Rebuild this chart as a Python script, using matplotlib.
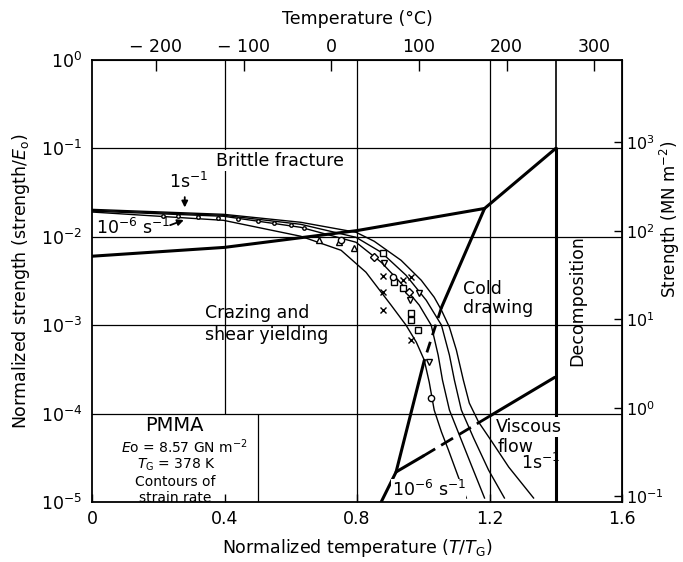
import numpy as np
import matplotlib
matplotlib.use("Agg")
import matplotlib.pyplot as plt

plt.rcParams["font.family"] = ["DejaVu Sans"]
plt.rcParams["mathtext.fontset"] = "dejavusans"

# =====================================
# Data (T/TG, log10 of strength/E0)
# =====================================

E0_MN = 8570.0   # MN m^-2
TG_K = 378.0

# strain-rate contours, 1 s^-1 ... 1e-6 s^-1
rate_a_T = [0, 0.397, 0.630, 0.797, 0.852, 0.933, 0.994, 1.033, 1.055, 1.079, 1.100, 1.121, 1.139, 1.167, 1.206, 1.258, 1.333]
rate_a_log = [-1.69, -1.746, -1.836, -1.949, -2.051, -2.266, -2.492, -2.684, -2.831, -3.023, -3.282, -3.621, -3.881, -4.096, -4.311, -4.605, -4.955]

rate_c_T = [0, 0.397, 0.630, 0.797, 0.873, 0.948, 1.009, 1.055, 1.079, 1.094, 1.115, 1.152, 1.197, 1.245]
rate_c_log = [-1.70, -1.757, -1.859, -2.006, -2.175, -2.435, -2.718, -3.000, -3.339, -3.621, -3.960, -4.277, -4.638, -4.955]

rate_b_T = [0, 0.397, 0.630, 0.797, 0.873, 0.933, 0.988, 1.024, 1.045, 1.058, 1.079, 1.109, 1.145, 1.185]
rate_b_log = [-1.71, -1.768, -1.893, -2.062, -2.288, -2.525, -2.774, -3.000, -3.339, -3.621, -3.960, -4.243, -4.582, -4.955]

rate_d_T = [0, 0.397, 0.630, 0.752, 0.827, 0.903, 0.948, 0.979, 1.003, 1.018, 1.033, 1.055, 1.076, 1.106, 1.130]
rate_d_log = [-1.72, -1.814, -1.994, -2.153, -2.401, -2.774, -3.000, -3.192, -3.395, -3.644, -3.960, -4.209, -4.412, -4.718, -4.955]

# field boundaries
brittle_T = [0, 0.4, 0.8, 1.185, 1.4]
brittle_log = [-2.22, -2.12, -1.93, -1.68, -1.0]

cold_solid_T = [1.185, 1.055]
cold_solid_log = [-1.68, -2.80]
cold_dash_T = [1.055, 1.003]
cold_dash_log = [-2.80, -3.40]
cold_low_T = [1.003, 0.918, 0.873]
cold_low_log = [-3.40, -4.66, -5.0]

visc_solid1_T = [0.918, 1.0]
visc_solid1_log = [-4.66, -4.48]
visc_dash_T = [1.0, 1.2]
visc_dash_log = [-4.48, -4.03]
visc_solid2_T = [1.2, 1.397]
visc_solid2_log = [-4.03, -3.59]

decomp_T = 1.4
decomp_log = [-1.0, -5.0]

# experimental points
pts_tri_up = ([0.685, 0.745, 0.79], [-2.04, -2.06, -2.13])
pts_tri_down = ([0.882, 0.988, 1.018, 0.96], [-2.30, -2.64, -3.42, -2.72])
pts_cross = ([0.879, 0.939, 0.964, 0.879, 0.879, 0.964], [-2.44, -2.49, -2.46, -2.63, -2.83, -3.17])
pts_square = ([0.879, 0.912, 0.939, 0.964, 0.985, 0.964], [-2.18, -2.51, -2.58, -2.86, -3.06, -2.94])
pts_circle = ([0.909, 1.024, 0.752], [-2.46, -3.82, -2.04])
pts_diamond = ([0.852, 0.958], [-2.23, -2.63])
pts_small = ([0.215, 0.26, 0.32, 0.38, 0.44, 0.50, 0.55, 0.60, 0.64],
             [-1.76, -1.765, -1.78, -1.79, -1.80, -1.82, -1.84, -1.87, -1.90])

x_ticks = [0, 0.4, 0.8, 1.2, 1.6]
x_tick_labels = ["0", "0.4", "0.8", "1.2", "1.6"]
y_ticks = [1e-5, 1e-4, 1e-3, 1e-2, 1e-1, 1e0]
y_tick_labels = ["$10^{-5}$", "$10^{-4}$", "$10^{-3}$", "$10^{-2}$", "$10^{-1}$", "$10^{0}$"]
temp_ticks = [-200, -100, 0, 100, 200, 300]
mn_ticks = [1e-1, 1e0, 1e1, 1e2, 1e3]
mn_tick_labels = ["$10^{-1}$", "$10^{0}$", "$10^{1}$", "$10^{2}$", "$10^{3}$"]


def p(vals):
    return 10 ** np.array(vals)


# =====================================
# Figure
# =====================================

fig = plt.figure(figsize=(6.83, 5.62), dpi=100)
ax = fig.add_axes([0.1347, 0.1068, 0.776, 0.7865])
ax.set_yscale("log")
ax.set_xlim(0, 1.6)
ax.set_ylim(1e-5, 1e0)

for s in ax.spines.values():
    s.set_linewidth(1.3)

# grid
for v in [1e-1, 1e-2, 1e-3, 1e-4]:
    ax.axhline(v, color="k", lw=0.9, zorder=1)
ax.vlines(0.4, 1e-4, 1e0, color="k", lw=0.9, zorder=1)
ax.vlines([0.8, 1.2], 1e-5, 1e0, color="k", lw=0.9, zorder=1)
ax.vlines(1.4, 1e-1, 1e0, color="k", lw=1.2, zorder=1)
ax.vlines(0.5, 1e-5, 1e-4, color="k", lw=0.9, zorder=1)

# contours
thin = dict(color="k", lw=1.0, zorder=3)
ax.plot(rate_a_T, p(rate_a_log), **thin)
ax.plot(rate_b_T, p(rate_b_log), **thin)
ax.plot(rate_c_T, p(rate_c_log), **thin)
ax.plot(rate_d_T, p(rate_d_log), **thin)

# boundaries
thick = dict(color="k", lw=2.2, zorder=4, solid_capstyle="round")
ax.plot(brittle_T, p(brittle_log), **thick)
ax.plot(cold_solid_T, p(cold_solid_log), **thick)
ax.plot(cold_dash_T, p(cold_dash_log), color="k", lw=2.0, ls=(0, (4, 2.5)), zorder=4)
ax.plot(cold_low_T, p(cold_low_log), **thick)
ax.plot(visc_solid1_T, p(visc_solid1_log), **thick)
ax.plot(visc_dash_T, p(visc_dash_log), color="k", lw=2.0, ls=(0, (5, 2.5)), zorder=4)
ax.plot(visc_solid2_T, p(visc_solid2_log), **thick)
ax.plot([decomp_T, decomp_T], p(decomp_log), **thick)

# data points
mk = dict(color="k", ls="none", mfc="white", mew=1.0, zorder=5)
ax.plot(pts_tri_up[0], p(pts_tri_up[1]), marker="^", ms=5, **mk)
ax.plot(pts_tri_down[0], p(pts_tri_down[1]), marker="v", ms=5, **mk)
ax.plot(pts_cross[0], p(pts_cross[1]), marker="x", ms=5, **mk)
ax.plot(pts_square[0], p(pts_square[1]), marker="s", ms=4.5, **mk)
ax.plot(pts_circle[0], p(pts_circle[1]), marker="o", ms=4.5, **mk)
ax.plot(pts_diamond[0], p(pts_diamond[1]), marker="D", ms=4, **mk)
ax.plot(pts_small[0], p(pts_small[1]), marker="o", ms=2.5, **mk)

# labels inside
fs = 12.5
wb = dict(facecolor="white", edgecolor="none", pad=1.0)
ax.text(0.373, p(-1.14), "Brittle fracture", fontsize=fs, va="center", bbox=wb, zorder=6)
ax.text(0.29, p(-1.38), "1s$^{-1}$", fontsize=fs, ha="center", va="center")
ax.text(0.012, p(-1.90), "10$^{-6}$ s$^{-1}$", fontsize=fs, va="center")
ax.annotate("", xy=(0.28, p(-1.70)), xytext=(0.28, p(-1.52)),
            arrowprops=dict(arrowstyle="-|>", color="k", lw=1.3, mutation_scale=9))
ax.annotate("", xy=(0.285, p(-1.80)), xytext=(0.228, p(-1.88)),
            arrowprops=dict(arrowstyle="-|>", color="k", lw=1.3, mutation_scale=9))
ax.text(0.342, p(-2.86), "Crazing and", fontsize=fs, va="center")
ax.text(0.342, p(-3.11), "shear yielding", fontsize=fs, va="center")
ax.text(1.12, p(-2.59), "Cold", fontsize=fs, va="center")
ax.text(1.12, p(-2.81), "drawing", fontsize=fs, va="center")
ax.text(1.22, p(-4.15), "Viscous", fontsize=fs, va="center",
        bbox=dict(facecolor="white", edgecolor="none", pad=0.5), zorder=6)
ax.text(1.225, p(-4.38), "flow", fontsize=fs, va="center")
ax.text(1.294, p(-4.56), "1s$^{-1}$", fontsize=fs, va="center")
ax.text(0.905, p(-4.86), "10$^{-6}$ s$^{-1}$", fontsize=fs, va="center",
        bbox=dict(facecolor="white", edgecolor="none", pad=0.3), zorder=6)
ax.text(1.465, p(-2.72), "Decomposition", fontsize=fs, rotation=90, ha="center", va="center")

ax.text(0.25, p(-4.13), "PMMA", fontsize=14, ha="center", va="center")
ax.text(0.28, p(-4.38), "$E$o = 8.57 GN m$^{-2}$", fontsize=10, ha="center", va="center")
ax.text(0.255, p(-4.58), "$T_{\\rm G}$ = 378 K", fontsize=10, ha="center", va="center")
ax.text(0.25, p(-4.77), "Contours of", fontsize=10, ha="center", va="center")
ax.text(0.25, p(-4.95), "strain rate", fontsize=10, ha="center", va="center")

# axes ticks
ax.set_xticks(x_ticks)
ax.set_xticklabels(x_tick_labels)
ax.set_yticks(y_ticks)
ax.set_yticklabels(y_tick_labels)
ax.minorticks_off()
ax.tick_params(axis="x", direction="in", length=6, width=1.0, labelsize=fs, pad=6)
ax.tick_params(axis="y", length=0, labelsize=fs, pad=7)
ax.set_xlabel("Normalized temperature ($T$/$T_{\\rm G}$)", fontsize=fs, labelpad=6)
ax.set_ylabel("Normalized strength (strength/$E_{\\rm o}$)", fontsize=fs, labelpad=6)

top = ax.secondary_xaxis("top", functions=(lambda t: t * TG_K - 273.0,
                                           lambda c: (c + 273.0) / TG_K))
top.set_xticks(temp_ticks)
top.set_xticklabels([str(t).replace("-", "\u2212 ") for t in temp_ticks])
top.tick_params(direction="in", length=8, width=1.0, labelsize=fs, pad=3)
top.set_xlabel("Temperature (\u00b0C)", fontsize=fs, labelpad=10)

right = ax.secondary_yaxis("right", functions=(lambda y: y * E0_MN, lambda m: m / E0_MN))
right.set_yticks(mn_ticks)
right.set_yticklabels(mn_tick_labels)
right.minorticks_off()
right.tick_params(direction="in", length=6, width=1.0, labelsize=11.5, pad=3)
ax.text(1.09, 0.64, "Strength (MN m$^{-2}$)", fontsize=12, rotation=90,
        ha="center", va="center", transform=ax.transAxes)

plt.savefig("out.png", dpi=100)
